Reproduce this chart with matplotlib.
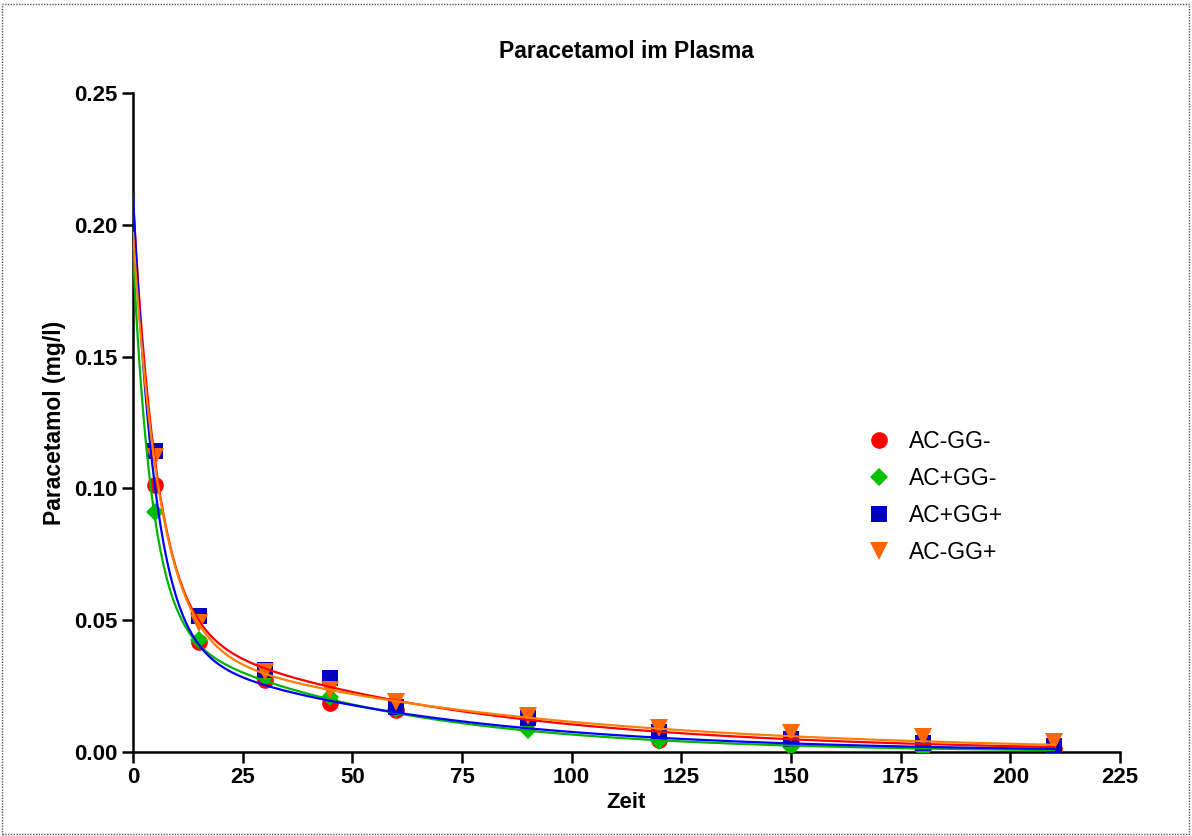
import numpy as np
import matplotlib
matplotlib.use("Agg")
import matplotlib.pyplot as plt
from matplotlib.patches import Rectangle

plt.rcParams['font.family'] = ['Liberation Sans', 'DejaVu Sans']

# ---- data ----
zeit = [5, 15, 30, 45, 60, 90, 120, 150, 180, 210]
series_names = ["AC-GG-", "AC+GG-", "AC+GG+", "AC-GG+"]
ac_gg_minus = [0.1013, 0.0419, 0.0273, 0.0186, 0.0160, 0.0120, 0.0046, 0.0034, 0.0020, 0.0010]
ac_plus_gg_minus = [0.0912, 0.0425, 0.0285, 0.0210, 0.0163, 0.0083, 0.0042, 0.0020, 0.0008, 0.0002]
ac_plus_gg_plus = [0.1143, 0.0515, 0.0311, 0.0280, 0.0171, 0.0129, 0.0076, 0.0049, 0.0035, 0.0022]
ac_gg_plus = [0.1120, 0.0490, 0.0305, 0.0235, 0.0190, 0.0137, 0.0090, 0.0072, 0.0058, 0.0039]

# two-phase decay fit parameters: span_fast, k_fast, span_slow, k_slow
fit_fast_span = [0.160, 0.140, 0.170, 0.155]
fit_fast_k = [0.180, 0.230, 0.200, 0.160]
fit_slow_span = [0.0494, 0.0490, 0.0416, 0.0420]
fit_slow_k = [0.0155, 0.0200, 0.0170, 0.0130]

values = [ac_gg_minus, ac_plus_gg_minus, ac_plus_gg_plus, ac_gg_plus]
marker_colors = ["#FF0000", "#00C000", "#0000C0", "#FF6600"]
line_colors = ["#FF0000", "#00B400", "#0000FF", "#FF8000"]
markers = ["o", "D", "s", "v"]
msizes = [12, 9.5, 12, 12.5]

fig = plt.figure(figsize=(11.92, 8.36), dpi=100)
ax = fig.add_axes([133/1192, 84/836, 987/1192, 659/836])

t = np.linspace(0, 210, 600)
for i in range(4):
    c = (fit_fast_span[i] * np.exp(-fit_fast_k[i] * t)
         + fit_slow_span[i] * np.exp(-fit_slow_k[i] * t))
    ax.plot(t, c, color=line_colors[i], lw=1.6, zorder=5)

for i in range(4):
    ax.plot(zeit, values[i], linestyle="none", marker=markers[i], ms=msizes[i],
            color=marker_colors[i], markeredgewidth=0, label=series_names[i], zorder=3 + i * 0.1)

ax.set_xlim(0, 225)
ax.set_ylim(0, 0.25)
ax.set_xticks(np.arange(0, 226, 25))
ax.set_yticks([0, 0.05, 0.10, 0.15, 0.20, 0.25])
ax.set_yticklabels(["0.00", "0.05", "0.10", "0.15", "0.20", "0.25"])
for s in ["top", "right"]:
    ax.spines[s].set_visible(False)
for s in ["left", "bottom"]:
    ax.spines[s].set_linewidth(1.8)
    ax.spines[s].set_color("black")
ax.tick_params(axis="both", direction="out", length=8, width=1.8, labelsize=16, pad=3)
for lab in ax.get_xticklabels() + ax.get_yticklabels():
    lab.set_fontweight("bold")

ax.set_title("Paracetamol im Plasma", fontsize=16.5, fontweight="bold", pad=25)
ax.set_xlabel("Zeit", fontsize=16, fontweight="bold", labelpad=3)
ax.set_ylabel("Paracetamol (mg/l)", fontsize=16.5, fontweight="bold", labelpad=6)

leg = ax.legend(loc="center left", bbox_to_anchor=(845/1192, (836-497)/836),
                bbox_transform=fig.transFigure, frameon=False, fontsize=16.5,
                handletextpad=0.7, labelspacing=0.62, handlelength=1.2)

fig.patches.append(Rectangle((2/1192, 2/836), 1187/1192, 830/836, transform=fig.transFigure,
                             fill=False, linestyle=(0, (1, 1)), linewidth=1, edgecolor="#555555"))

fig.savefig("out.png", dpi=100)
